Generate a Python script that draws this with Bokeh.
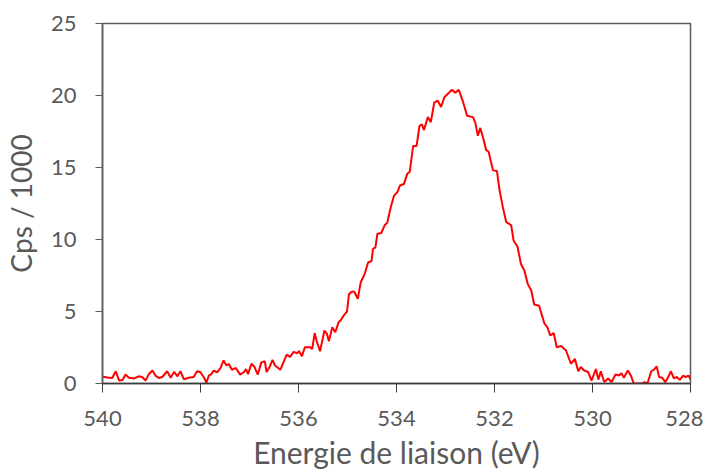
from bokeh.plotting import figure
from bokeh.models import Range1d, FixedTicker
from bokeh.embed import file_html
from bokeh.resources import INLINE

energy = [540.00, 539.90, 539.80, 539.73, 539.66, 539.59, 539.53, 539.46, 539.36, 539.26,
          539.19, 539.12, 539.06, 538.98, 538.92, 538.85, 538.78, 538.68, 538.61, 538.54,
          538.47, 538.41, 538.34, 538.24, 538.14, 538.07, 538.00, 537.93, 537.88, 537.83,
          537.78, 537.73, 537.66, 537.59, 537.53, 537.47, 537.42, 537.36, 537.28, 537.19,
          537.12, 537.07, 537.03, 536.96, 536.90, 536.83, 536.76, 536.69, 536.65, 536.59,
          536.53, 536.48, 536.37, 536.31, 536.24, 536.17, 536.10, 536.03, 535.99, 535.93,
          535.87, 535.76, 535.72, 535.67, 535.63, 535.56, 535.47, 535.42, 535.38, 535.31,
          535.25, 535.18, 535.13, 535.08, 535.05, 535.01, 534.97, 534.93, 534.88, 534.85,
          534.79, 534.73, 534.65, 534.58, 534.51, 534.48, 534.43, 534.39, 534.31, 534.24,
          534.19, 534.12, 534.05, 533.98, 533.93, 533.85, 533.78, 533.73, 533.66, 533.59,
          533.53, 533.48, 533.44, 533.36, 533.30, 533.23, 533.16, 533.09, 533.02, 532.94,
          532.87, 532.80, 532.73, 532.65, 532.56, 532.44, 532.39, 532.34, 532.29, 532.22,
          532.17, 532.12, 532.03, 531.95, 531.90, 531.83, 531.76, 531.66, 531.61, 531.53,
          531.46, 531.39, 531.32, 531.25, 531.19, 531.09, 530.98, 530.92, 530.86, 530.79,
          530.73, 530.64, 530.54, 530.44, 530.36, 530.29, 530.24, 530.17, 530.09, 530.02,
          529.93, 529.88, 529.83, 529.76, 529.68, 529.61, 529.53, 529.46, 529.41, 529.36,
          529.28, 529.21, 529.16, 529.09, 528.98, 528.94, 528.88, 528.80, 528.75, 528.69,
          528.64, 528.58, 528.51, 528.44, 528.40, 528.34, 528.28, 528.22, 528.15, 528.10,
          528.04, 528.00]

counts = [0.49, 0.42, 0.38, 0.85, 0.20, 0.25, 0.62, 0.40, 0.35, 0.50,
          0.45, 0.20, 0.62, 0.90, 0.55, 0.38, 0.45, 0.85, 0.40, 0.80,
          0.50, 0.85, 0.30, 0.40, 0.45, 0.85, 0.78, 0.42, 0.05, 0.55,
          0.65, 0.90, 0.78, 1.08, 1.60, 1.25, 1.35, 0.95, 1.08, 0.62,
          0.78, 1.00, 0.65, 1.37, 1.15, 0.62, 1.45, 1.55, 0.80, 1.15,
          1.64, 1.25, 0.95, 1.45, 2.00, 1.85, 2.20, 2.10, 2.25, 1.90,
          2.52, 2.52, 2.40, 3.50, 2.95, 2.24, 3.68, 3.45, 2.94, 3.91,
          3.56, 4.26, 4.42, 4.72, 4.84, 5.00, 6.20, 6.34, 6.40, 6.30,
          5.88, 7.03, 7.60, 8.40, 8.50, 9.35, 9.45, 10.40, 10.45, 11.00,
          11.15, 12.20, 13.05, 13.30, 13.75, 13.85, 14.56, 14.70, 16.50, 16.50,
          17.90, 18.00, 17.60, 18.50, 18.15, 19.50, 19.65, 19.20, 19.90, 20.15,
          20.40, 20.20, 20.40, 19.65, 18.60, 18.50, 18.10, 17.20, 17.75, 16.90,
          16.20, 16.10, 14.80, 14.75, 13.50, 12.25, 11.20, 11.00, 9.93, 9.50,
          8.30, 7.85, 6.90, 6.46, 5.49, 5.40, 4.15, 3.90, 3.33, 3.50,
          2.52, 2.60, 2.29, 1.37, 1.71, 0.85, 1.15, 0.90, 0.80, 0.20,
          1.00, 0.27, 0.85, 0.10, 0.35, 0.10, 0.62, 0.55, 0.72, 0.40,
          0.90, 0.50, 0.00, 0.00, 0.00, 0.10, 0.00, 0.85, 0.95, 1.18,
          0.45, 0.40, 0.10, 0.55, 0.85, 0.35, 0.45, 0.25, 0.55, 0.45,
          0.55, 0.30]

x_ticks = [540, 538, 536, 534, 532, 530, 528]
y_ticks = [0, 5, 10, 15, 20, 25]
x_title = "Energie de liaison (eV)"
y_title = "Cps / 1000"

FONT = "Lato"
TEXT = "#595959"

p = figure(width=703, height=472, output_backend="svg", toolbar_location=None,
           x_range=Range1d(540, 528), y_range=Range1d(0, 25),
           min_border_left=100, min_border_right=13, min_border_top=23, min_border_bottom=89)

p.line(energy, counts, line_color="#FF0000", line_width=2)

p.xgrid.visible = False
p.ygrid.visible = False
p.outline_line_color = "#5a5a5a"
p.outline_line_width = 1.5
p.background_fill_color = "white"
p.border_fill_color = "white"

p.xaxis.ticker = FixedTicker(ticks=x_ticks)
p.yaxis.ticker = FixedTicker(ticks=y_ticks)

for ax in (p.xaxis, p.yaxis):
    ax.minor_tick_line_color = None
    ax.major_tick_in = 0
    ax.major_label_text_font = FONT
    ax.major_label_text_font_size = "22px"
    ax.major_label_text_color = TEXT
    ax.axis_label_text_font = FONT
    ax.axis_label_text_font_style = "normal"
    ax.axis_label_text_color = TEXT

p.xaxis.axis_label = x_title
p.yaxis.axis_label = y_title
p.xaxis.axis_label_text_font_size = "30px"
p.yaxis.axis_label_text_font_size = "28px"

p.xaxis.axis_line_color = "#3a3a3a"
p.xaxis.major_tick_line_color = "#3a3a3a"
p.xaxis.major_tick_out = 9
p.xaxis.major_label_standoff = 18
p.xaxis.axis_label_standoff = 5
p.xaxis.axis_line_width = 1.5

p.yaxis.axis_line_color = "#5a5a5a"
p.yaxis.major_tick_line_color = "#5a5a5a"
p.yaxis.major_tick_out = 7
p.yaxis.major_label_standoff = 19
p.yaxis.axis_label_standoff = 10
p.yaxis.axis_line_width = 1.5

open("out.html", "w").write(file_html(p, INLINE))
